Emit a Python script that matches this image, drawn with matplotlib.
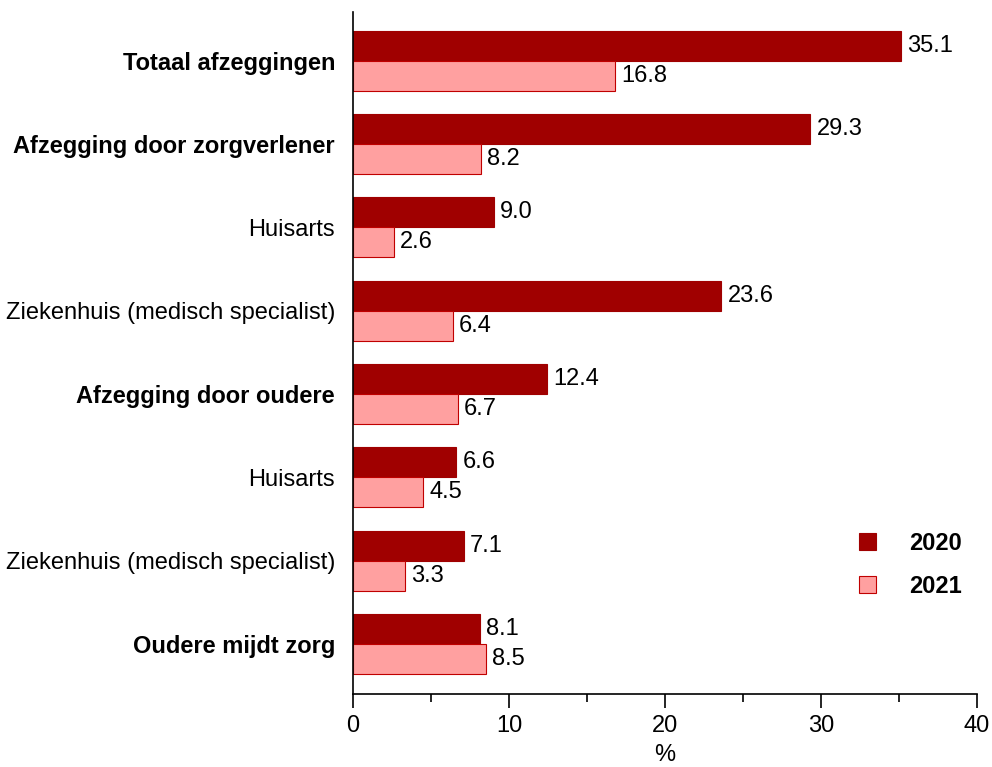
import matplotlib
matplotlib.use("Agg")
import matplotlib.pyplot as plt
import numpy as np

plt.rcParams["font.family"] = ["Liberation Sans", "DejaVu Sans"]

categories = [
    "Totaal afzeggingen",
    "Afzegging door zorgverlener",
    "Huisarts",
    "Ziekenhuis (medisch specialist)",
    "Afzegging door oudere",
    "Huisarts",
    "Ziekenhuis (medisch specialist)",
    "Oudere mijdt zorg",
]
bold_rows = [0, 1, 4, 7]
vals_2020 = [35.1, 29.3, 9.0, 23.6, 12.4, 6.6, 7.1, 8.1]
vals_2021 = [16.8, 8.2, 2.6, 6.4, 6.7, 4.5, 3.3, 8.5]

c2020 = "#A00000"
c2021 = "#FFA0A0"
edge = "#C00000"
fs = 17

fig = plt.figure(figsize=(9.92, 7.67), dpi=100)
ax = fig.add_axes([0.356, 0.095, 0.629, 0.889])

y = np.arange(len(categories))
h = 0.36
b1 = ax.barh(y - h / 2, vals_2020, height=h, color=c2020, edgecolor=c2020, lw=0.8, label="2020")
b2 = ax.barh(y + h / 2, vals_2021, height=h, color=c2021, edgecolor=edge, lw=0.8, label="2021")

for bars, vals in ((b1, vals_2020), (b2, vals_2021)):
    for bar, v in zip(bars, vals):
        ax.text(bar.get_width() + 0.4, bar.get_y() + bar.get_height() / 2, f"{v:.1f}",
                va="center", ha="left", fontsize=fs)

ax.set_yticks(y)
ax.set_yticklabels(categories, fontsize=fs)
for i, lab in enumerate(ax.get_yticklabels()):
    if i in bold_rows:
        lab.set_fontweight("bold")
ax.tick_params(axis="y", length=0, pad=13)

ax.set_ylim(7.6, -0.58)
ax.set_xlim(0, 40)
ax.set_xticks([0, 10, 20, 30, 40])
ax.set_xticks([5, 15, 25, 35], minor=True)
ax.tick_params(axis="x", labelsize=fs, length=10, width=1.2, pad=5)
ax.tick_params(axis="x", which="minor", length=6, width=1.2)
ax.set_xlabel("%", fontsize=fs, labelpad=5)

for s in ("top", "right"):
    ax.spines[s].set_visible(False)
for s in ("left", "bottom"):
    ax.spines[s].set_linewidth(1.2)

leg = ax.legend(loc="lower right", bbox_to_anchor=(1.01, 0.11), frameon=False,
                prop={"weight": "bold", "size": fs}, handlelength=0.75, handleheight=0.75,
                labelspacing=0.85, handletextpad=1.4)

fig.savefig("out.png", dpi=100)
